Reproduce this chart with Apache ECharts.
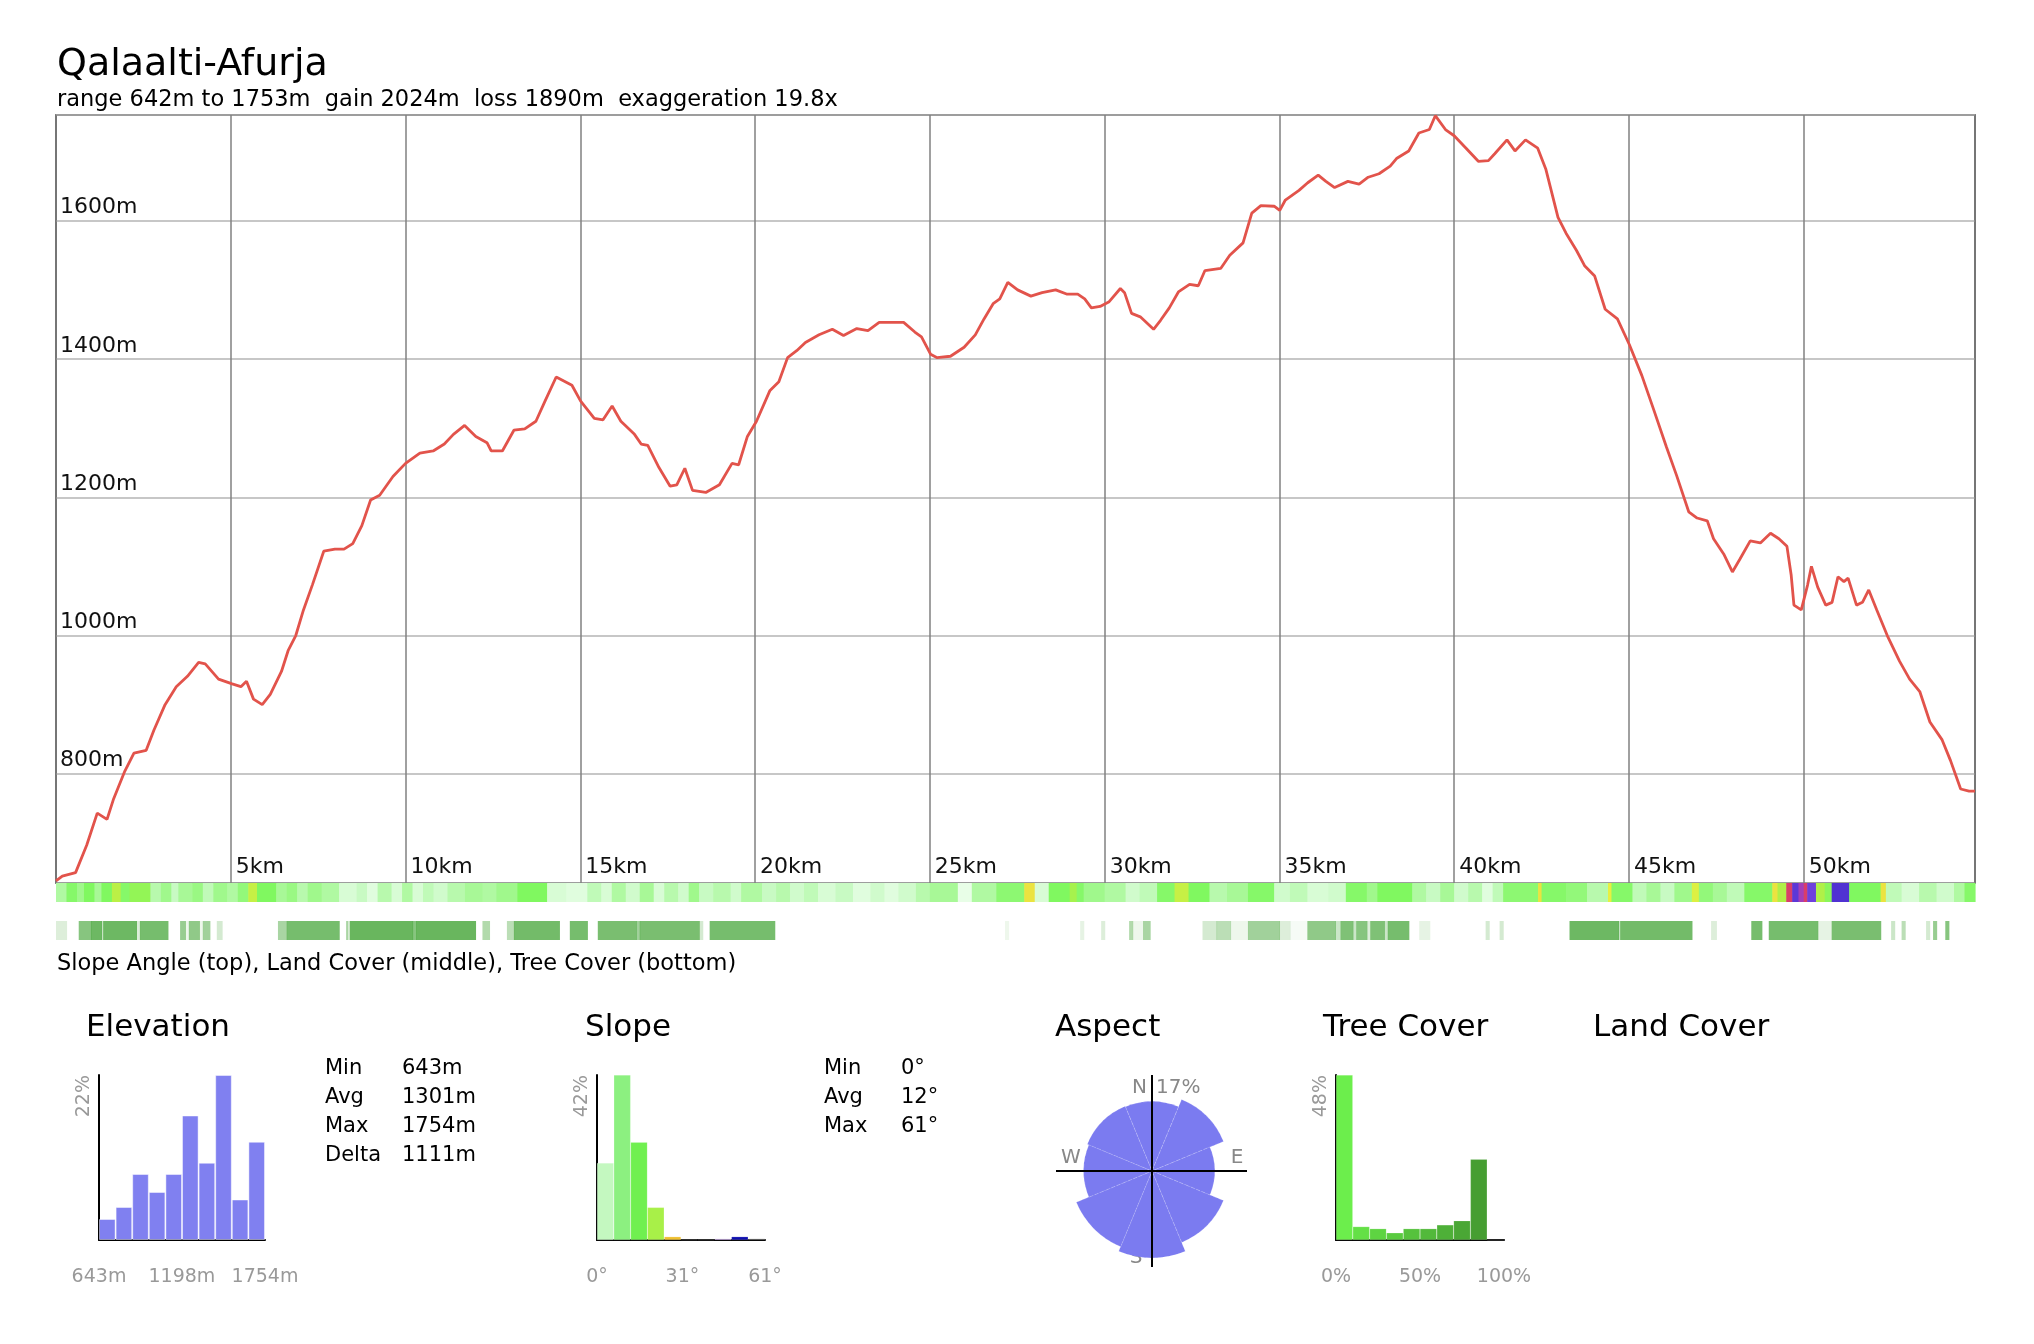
<!DOCTYPE html>
<html><head><meta charset="utf-8">
<script src="https://cdn.jsdelivr.net/npm/echarts@6/dist/echarts.min.js"></script>
<style>html,body{margin:0;padding:0;background:#fff}#c{width:2034px;height:1344px}</style>
</head><body><div id="c"></div>
<script>
// ---------------- DATA ----------------
const titleText = 'Qalaalti-Afurja';
const subtitleText = 'range 642m to 1753m  gain 2024m  loss 1890m  exaggeration 19.8x';
const captionText = 'Slope Angle (top), Land Cover (middle), Tree Cover (bottom)';

const distKm = [0,0.18,0.56,0.88,1.18,1.46,1.65,1.97,2.23,2.58,2.80,3.12,3.44,3.76,4.08,4.27,4.65,5.04,5.29,5.45,5.65,5.90,6.13,6.45,6.64,6.86,7.08,7.34,7.66,7.98,8.24,8.49,8.75,9.00,9.26,9.64,10.0,10.41,10.79,11.11,11.37,11.69,12.01,12.33,12.45,12.77,13.10,13.41,13.73,13.99,14.31,14.76,15.01,15.40,15.65,15.91,16.16,16.55,16.74,16.93,17.25,17.57,17.76,17.99,18.21,18.59,18.98,19.34,19.53,19.78,20.04,20.42,20.68,20.93,21.19,21.44,21.83,22.21,22.53,22.91,23.23,23.55,24.25,24.57,24.76,25.02,25.21,25.59,25.98,26.30,26.55,26.81,27.00,27.23,27.51,27.89,28.21,28.60,28.91,29.23,29.43,29.62,29.87,30.13,30.45,30.57,30.77,31.02,31.40,31.60,31.85,32.11,32.43,32.68,32.87,33.32,33.58,33.96,34.21,34.47,34.85,35.01,35.17,35.56,35.81,36.11,36.33,36.58,36.96,37.28,37.54,37.85,38.17,38.35,38.70,38.99,39.29,39.46,39.75,40.0,40.34,40.69,40.98,41.16,41.51,41.74,42.04,42.39,42.62,42.97,43.20,43.50,43.73,44.02,44.32,44.67,45.01,45.37,45.72,46.07,46.36,46.71,46.95,47.24,47.42,47.71,47.96,48.18,48.47,48.76,49.05,49.29,49.52,49.64,49.72,49.93,50.11,50.22,50.40,50.63,50.81,50.98,51.15,51.27,51.51,51.68,51.86,52.09,52.39,52.74,53.03,53.32,53.61,53.96,54.20,54.49,54.73,54.9];
const elevM = [645,652,657,697,743,734,764,804,830,834,863,900,926,941,961,959,937,930,926,934,908,900,915,948,978,1000,1037,1074,1122,1125,1125,1133,1159,1196,1203,1230,1249,1264,1267,1277,1291,1304,1288,1279,1267,1267,1297,1299,1310,1339,1374,1362,1339,1314,1312,1332,1310,1291,1277,1275,1243,1216,1218,1242,1210,1207,1218,1249,1247,1288,1310,1354,1367,1402,1412,1424,1435,1443,1434,1444,1441,1453,1453,1439,1432,1407,1402,1404,1417,1435,1458,1480,1487,1511,1500,1491,1496,1500,1494,1494,1487,1474,1476,1483,1502,1496,1466,1461,1443,1456,1474,1497,1508,1506,1528,1531,1550,1568,1611,1622,1621,1615,1630,1644,1655,1666,1657,1648,1657,1653,1663,1668,1679,1690,1701,1727,1732,1752,1732,1723,1705,1686,1687,1697,1717,1701,1717,1705,1675,1605,1582,1557,1535,1520,1472,1458,1421,1376,1325,1273,1232,1179,1170,1166,1140,1118,1092,1111,1137,1134,1148,1140,1129,1088,1044,1037,1073,1100,1070,1044,1048,1085,1078,1083,1044,1048,1066,1037,1000,963,937,919,875,849,819,778,775,775];
const xMaxKm = 54.9;
const yMinM = 642, yMaxM = 1753;

// slope strip: [startKm, endKm, slopeDeg]
const slopeSeg = [
[0.0,0.3,8],[0.3,0.6,14],[0.6,0.8,10],[0.8,1.1,15],[1.1,1.3,9],[1.3,1.6,15],[1.6,1.85,21],[1.85,2.1,14],[2.1,2.7,17],[2.7,3.0,7],
[3.0,3.3,10],[3.3,3.5,5],[3.5,3.9,9],[3.9,4.2,11],[4.2,4.5,6],[4.5,4.9,10],[4.9,5.2,8],[5.2,5.5,12],[5.5,5.75,22],[5.75,6.3,15],
[6.3,6.6,9],[6.6,6.9,11],[6.9,7.2,7],[7.2,7.6,10],[7.6,8.1,8],[8.1,8.6,3],[8.6,8.9,5],[8.9,9.2,2],[9.2,9.6,7],[9.6,9.9,3],
[9.9,10.2,8],[10.2,10.5,3],[10.5,10.8,6],[10.8,11.2,4],[11.2,11.7,7],[11.7,12.2,9],[12.2,12.6,8],[12.6,13.2,10],[13.2,14.05,15],[14.05,14.6,3],
[14.6,15.2,2],[15.2,15.6,6],[15.6,15.9,3],[15.9,16.3,8],[16.3,16.7,4],[16.7,17.1,9],[17.1,17.4,3],[17.4,17.8,7],[17.8,18.1,4],[18.1,18.4,10],
[18.4,18.8,5],[18.8,19.3,7],[19.3,19.6,4],[19.6,20.2,8],[20.2,20.6,5],[20.6,21.0,7],[21.0,21.4,4],[21.4,21.8,6],[21.8,22.3,3],[22.3,22.8,5],
[22.8,23.3,2],[23.3,23.7,4],[23.7,24.1,2],[24.1,24.6,4],[24.6,25.0,7],[25.0,25.8,9],[25.8,26.2,1],[26.2,26.9,8],[26.9,27.7,13],[27.7,28.0,26],
[28.0,28.4,3],[28.4,29.0,15],[29.0,29.2,19],[29.2,29.4,14],[29.4,30.0,10],[30.0,30.6,8],[30.6,31.0,4],[31.0,31.5,6],[31.5,32.0,14],[32.0,32.4,22],
[32.4,33.0,15],[33.0,33.5,7],[33.5,34.1,9],[34.1,34.85,14],[34.85,35.3,4],[35.3,35.8,6],[35.8,36.4,3],[36.4,36.9,4],[36.9,37.5,14],[37.5,37.8,10],
[37.8,38.8,15],[38.8,39.2,8],[39.2,39.6,5],[39.6,40.0,9],[40.0,40.4,4],[40.4,40.8,7],[40.8,41.1,2],[41.1,41.4,6],[41.4,42.4,13],[42.4,42.5,26],
[42.5,43.2,14],[43.2,43.8,12],[43.8,44.4,7],[44.4,44.5,25],[44.5,45.1,14],[45.1,45.5,6],[45.5,45.9,9],[45.9,46.3,5],[46.3,46.8,10],[46.8,47.0,24],
[47.0,47.4,12],[47.4,47.8,9],[47.8,48.3,6],[48.3,49.1,14],[49.1,49.25,26],[49.25,49.5,20],[49.5,49.67,36],[49.67,49.85,48],[49.85,50.0,42],[50.0,50.1,36],
[50.1,50.35,45],[50.35,50.6,20],[50.6,50.8,16],[50.8,51.3,50],[51.3,52.2,15],[52.2,52.35,26],[52.35,52.8,6],[52.8,53.3,3],[53.3,53.8,7],[53.8,54.3,4],
[54.3,54.6,8],[54.6,54.9,14]];

// tree cover strip: [startKm, endKm, treeCoverPct]
const treeSeg = [
[0.0,0.3,20],[0.65,1.0,70],[1.0,1.3,85],[1.3,1.35,30],[1.35,2.3,85],[2.3,2.4,20],[2.4,3.2,80],[3.55,3.7,60],[3.7,3.8,10],[3.8,4.1,65],
[4.1,4.2,10],[4.2,4.4,55],[4.6,4.75,25],[6.35,6.6,50],[6.6,8.1,80],[8.3,8.35,50],[8.4,10.2,88],[10.2,10.3,70],[10.3,12.0,88],[12.2,12.4,45],
[12.9,13.1,40],[13.1,14.4,82],[14.7,15.2,80],[15.5,16.6,78],[16.6,16.7,55],[16.7,18.4,78],[18.4,18.5,25],[18.7,20.56,80],[27.15,27.25,10],[29.3,29.4,15],
[29.9,30.0,20],[30.7,30.8,45],[30.8,31.1,10],[31.1,31.3,50],[32.8,33.2,25],[33.2,33.6,40],[33.6,34.1,10],[34.1,35.0,55],[35.0,35.3,20],[35.3,35.8,5],
[35.8,36.6,65],[36.6,36.75,30],[36.75,37.1,75],[37.1,37.2,30],[37.2,37.5,70],[37.5,37.6,20],[37.6,38.0,75],[38.0,38.1,30],[38.1,38.7,80],[39.0,39.3,15],
[40.9,41.0,25],[41.3,41.4,25],[43.3,44.7,85],[44.7,44.75,30],[44.75,46.8,82],[47.35,47.5,20],[48.5,48.8,80],[49.0,50.4,80],[50.4,50.8,15],[50.8,52.2,78],
[52.5,52.6,30],[52.8,52.9,40],[53.5,53.6,25],[53.7,53.8,60],[54.05,54.15,70]];

// histograms (percent per bin)
const elevHistPct = [2.8,4.4,8.8,6.4,8.8,16.6,10.3,22.0,5.4,13.1];
const elevHistMin = 643, elevHistMax = 1754;
const elevHistTicks = [643,1198,1754];
const elevHistTop = 22;
const slopeHistPct = [19.6,42.0,24.9,8.3,0.85,0.1,0.1,0.34,0.85,0.34];
const slopeHistMax = 61;
const slopeHistTicks = [0,31,61];
const slopeHistTop = 42;
const treeHistPct = [48.0,3.9,3.3,2.1,3.3,3.3,4.4,5.6,23.5,0];
const treeHistTicks = [0,50,100];
const treeHistTop = 48;

const aspectDirs = ['N','NE','E','SE','S','SW','W','NW'];
const aspectPct = [12.3,13.7,11.1,13.7,15.4,14.5,12.1,12.4];
const aspectTop = 17;

const elevStatNames = ['Min','Avg','Max','Delta'];
const elevStatValues = ['643m','1301m','1754m','1111m'];
const slopeStatNames = ['Min','Avg','Max'];
const slopeStatValues = ['0°','12°','61°'];
const panelTitles = ['Elevation','Slope','Aspect','Tree Cover','Land Cover'];

// ---------------- STYLE ----------------
const FONT = "'DejaVu Sans', Verdana, sans-serif";
const slopeStops = [[0,[240,255,240]],[5,[200,250,195]],[10,[160,248,140]],[15,[128,248,96]],[20,[176,240,72]],[25,[232,240,64]],[28,[240,200,64]],[33,[230,64,64]],[40,[200,60,160]],[45,[110,64,220]],[50,[80,50,210]],[55,[20,20,170]],[61,[80,80,80]]];
function slopeColor(v){
  for(let i=1;i<slopeStops.length;i++){
    if(v<=slopeStops[i][0]){
      const a=slopeStops[i-1], b=slopeStops[i], t=(v-a[0])/(b[0]-a[0]);
      const c=a[1].map((x,k)=>Math.round(x+(b[1][k]-x)*t));
      return 'rgb('+c.join(',')+')';
    }
  }
  return 'rgb(80,80,80)';
}
function treeColor(v){ return 'rgba(84,172,72,'+(v/100).toFixed(3)+')'; }
const slopeBinColors = ['#c4f8c0','#8cf080','#70f050','#a8f048','#f0c030','#f08030','#e04040','#c0a0e0','#1010b0','#505050'];
const treeBinColors = ['#6cee4c','#64e046','#5ed442','#5acb40','#56c23d','#52b93b','#4eb038','#4aa735','#469e32','#42962f'];

const chart = echarts.init(document.getElementById('c'), null, {renderer:'canvas', width:2034, height:1344});

function stripRender(params, api){
  const s=api.value(0), e=api.value(1), row=api.value(2), v=api.value(3);
  const p0=api.coord([s,row]), p1=api.coord([e,row]);
  const h=api.size([0,1])[1];
  return {type:'rect', shape:{x:p0[0], y:p0[1]-h/2, width:Math.max(1,p1[0]-p0[0]+0.6), height:h},
    style:{fill: params.seriesIndex===1 ? slopeColor(v) : treeColor(v)}};
}

const histY = (gi, top) => ({gridIndex:gi, type:'value', min:0, max:top,
  axisLine:{show:true, lineStyle:{color:'#000', width:2}}, axisTick:{show:false}, splitLine:{show:false},
  axisLabel:{customValues:[top], rotate:90, align:'right', verticalAlign:'bottom', margin:5, color:'#999', fontFamily:FONT, fontSize:19, formatter:v=>v+'%'}});
const histCat = (gi) => ({gridIndex:gi, type:'category', data:[1,2,3,4,5,6,7,8,9,10], boundaryGap:true,
  axisLine:{show:true, onZero:false, lineStyle:{color:'#000', width:2}}, axisTick:{show:false}, axisLabel:{show:false}});
const histLab = (gi, mn, mx, ticks, unit) => ({gridIndex:gi, type:'value', min:mn, max:mx, position:'bottom',
  axisLine:{show:false}, axisTick:{show:false}, splitLine:{show:false},
  axisLabel:{customValues:ticks, margin:28, color:'#999', fontFamily:FONT, fontSize:19, formatter:v=>v+unit}});

const txt = (x,y,t,size,color,align) => ({type:'text', x:x, y:y, style:{text:t, font:size+'px '+FONT, fill:color||'#000', textAlign:align||'left', textVerticalAlign:'middle'}});

const graphics = [
  txt(57,65,titleText,38),
  txt(57,100,subtitleText,22.5),
  txt(57,964,captionText,22.5),
  txt(86,1028,panelTitles[0],31),
  txt(585,1028,panelTitles[1],31),
  txt(1055,1028,panelTitles[2],31),
  txt(1323,1028,panelTitles[3],31),
  txt(1593,1028,panelTitles[4],31),
  {type:'line', shape:{x1:1056,y1:1171,x2:1247,y2:1171}, style:{stroke:'#000', lineWidth:2}, z:10},
  {type:'line', shape:{x1:1152,y1:1075,x2:1152,y2:1267}, style:{stroke:'#000', lineWidth:2}, z:10},
  txt(1147,1088,'N',20,'#888','right'),
  txt(1156,1088,aspectTop+'%',20,'#888','left'),
  txt(1071,1158,'W',20,'#888','center'),
  txt(1237,1158,'E',20,'#888','center'),
  txt(1136,1258,'S',20,'#888','center'),
];
elevStatNames.forEach((n,i)=>{ graphics.push(txt(325,1069+i*28.7,n,21)); graphics.push(txt(402,1069+i*28.7,elevStatValues[i],21)); });
slopeStatNames.forEach((n,i)=>{ graphics.push(txt(824,1069+i*28.7,n,21)); graphics.push(txt(901,1069+i*28.7,slopeStatValues[i],21)); });

const option = {
  animation:false,
  backgroundColor:'#fff',
  grid:[
    {left:56, top:115, width:1919, height:768, show:true, borderColor:'#222', borderWidth:1.5, backgroundColor:'transparent'},
    {left:56, top:883, width:1919, height:57},
    {left:99, top:1075, width:166, height:165},
    {left:597, top:1075, width:168, height:165},
    {left:1336, top:1075, width:168, height:165}
  ],
  xAxis:[
    {gridIndex:0, type:'value', min:0, max:xMaxKm, interval:5,
      axisLine:{show:false}, axisTick:{show:false},
      splitLine:{show:true, lineStyle:{color:'#808080', width:1.5}},
      axisLabel:{inside:true, align:'left', margin:5, padding:[0,0,0,5], color:'#111', fontFamily:FONT, fontSize:22,
        formatter:v=> (v>0 && Math.abs(v%5)<1e-6) ? v+'km' : ''}},
    {gridIndex:1, type:'value', min:0, max:xMaxKm, show:false},
    histCat(2), histLab(2, elevHistMin, elevHistMax, elevHistTicks, 'm'),
    histCat(3), histLab(3, 0, slopeHistMax, slopeHistTicks, '°'),
    histCat(4), histLab(4, 0, 100, treeHistTicks, '%')
  ],
  yAxis:[
    {gridIndex:0, type:'value', min:yMinM, max:yMaxM,
      axisLine:{show:false}, axisTick:{show:false},
      splitLine:{show:true, lineStyle:{color:'#b4b4b4', width:1.5}},
      axisLabel:{inside:true, align:'left', verticalAlign:'bottom', margin:4, padding:[0,0,2,0], color:'#111', fontFamily:FONT, fontSize:22,
        formatter:v=> (v%200===0) ? v+'m' : ''}},
    {gridIndex:1, type:'category', data:['slope','land','tree'], inverse:true, show:false},
    histY(2, elevHistTop), histY(3, slopeHistTop), histY(4, treeHistTop)
  ],
  polar:{center:[1152,1171], radius:[0,96]},
  angleAxis:{type:'category', data:aspectDirs, startAngle:112.5, clockwise:true, show:false, boundaryGap:true},
  radiusAxis:{type:'value', min:0, max:aspectTop, show:false},
  series:[
    {type:'line', xAxisIndex:0, yAxisIndex:0, data:distKm.map((d,i)=>[d,elevM[i]]), showSymbol:false, clip:true,
      lineStyle:{color:'#e2534b', width:2.8}, z:5},
    {type:'custom', xAxisIndex:1, yAxisIndex:1, renderItem:stripRender, encode:{x:[0,1], y:2},
      data:slopeSeg.map(s=>[s[0],s[1],0,s[2]])},
    {type:'custom', xAxisIndex:1, yAxisIndex:1, renderItem:stripRender, encode:{x:[0,1], y:2},
      data:treeSeg.map(s=>[s[0],s[1],2,s[2]])},
    {type:'bar', xAxisIndex:2, yAxisIndex:2, data:elevHistPct, barCategoryGap:'0%',
      itemStyle:{color:'#8080f0', borderColor:'rgba(255,255,255,0.45)', borderWidth:1}},
    {type:'bar', xAxisIndex:4, yAxisIndex:3, barCategoryGap:'0%',
      data:slopeHistPct.map((v,i)=>({value:v, itemStyle:{color:slopeBinColors[i]}})),
      itemStyle:{borderColor:'rgba(255,255,255,0.3)', borderWidth:0.5}},
    {type:'bar', xAxisIndex:6, yAxisIndex:4, barCategoryGap:'0%',
      data:treeHistPct.map((v,i)=>({value:v, itemStyle:{color:treeBinColors[i]}})),
      itemStyle:{borderColor:'rgba(255,255,255,0.3)', borderWidth:0.5}},
    {type:'bar', coordinateSystem:'polar', data:aspectPct, barCategoryGap:'0%',
      itemStyle:{color:'#7b7bf0', borderColor:'rgba(255,255,255,0.18)', borderWidth:1, borderType:'dashed'}}
  ],
  graphic:graphics
};
chart.setOption(option);
</script></body></html>
